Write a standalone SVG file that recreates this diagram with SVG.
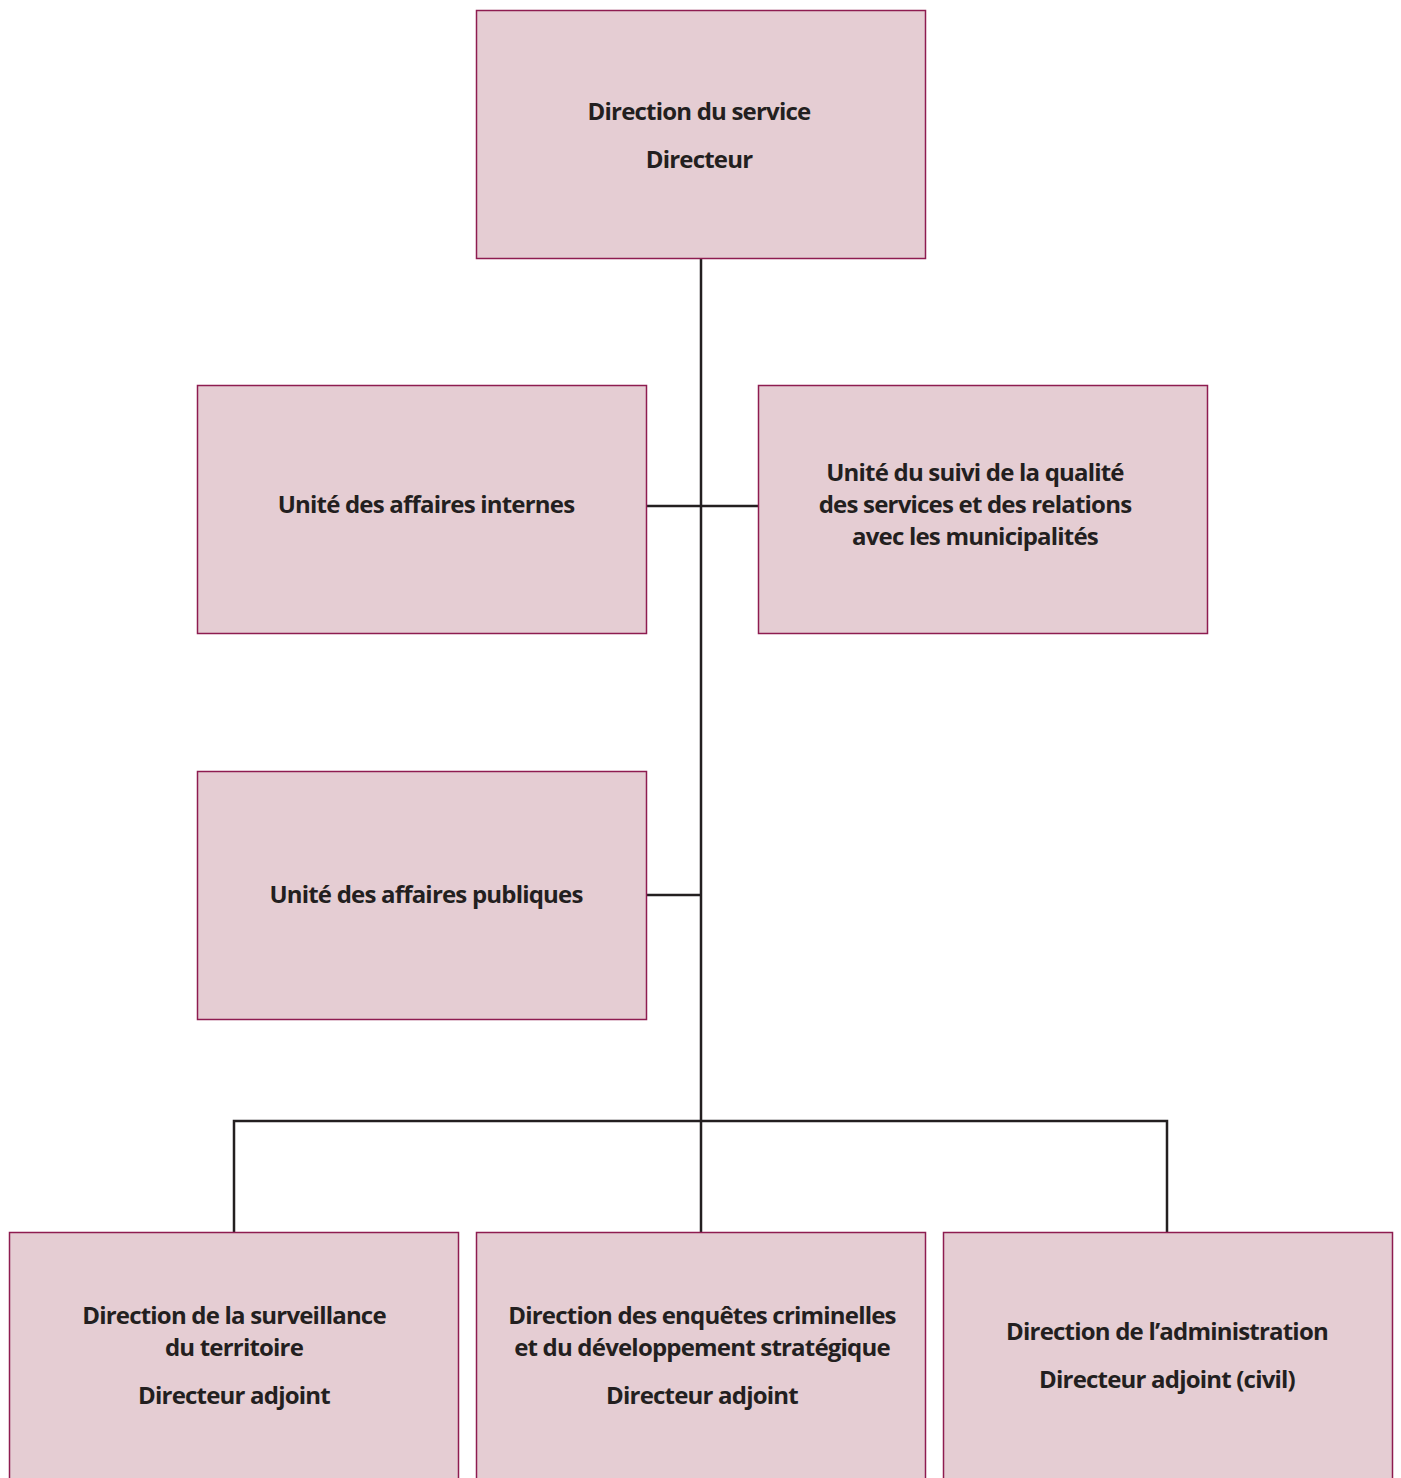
<svg xmlns="http://www.w3.org/2000/svg" width="1401" height="1478" viewBox="0 0 1401 1478">
<style>
.box{fill:#e5cdd3;stroke:#8e1c50;stroke-width:1.5}
.lbl{font-family:"Open Sans","Liberation Sans",sans-serif;font-weight:700;font-size:24px;letter-spacing:-0.8px;fill:#231f20;text-anchor:middle}
.con{fill:none;stroke:#231f20;stroke-width:2.5}
</style>
<rect width="1401" height="1478" fill="#fff"/>
<g id="connectors">
<path class="con" d="M701 259V1232"/>
<path class="con" d="M646 506H758"/>
<path class="con" d="M646 895H701"/>
<path class="con" d="M234 1232V1121H1167V1232"/>
</g>
<g id="n-direction">
<rect class="box" x="476.5" y="10.5" width="449" height="248"/>
<text class="lbl" x="699" y="120">Direction du service</text>
<text class="lbl" x="699" y="168">Directeur</text>
</g>
<g id="n-affaires-internes">
<rect class="box" x="197.5" y="385.5" width="449" height="248"/>
<text class="lbl" x="426" y="513">Unité des affaires internes</text>
</g>
<g id="n-qualite">
<rect class="box" x="758.5" y="385.5" width="449" height="248"/>
<text class="lbl" x="975" y="481">Unité du suivi de la qualité</text>
<text class="lbl" x="975" y="513">des services et des relations</text>
<text class="lbl" x="975" y="545">avec les municipalités</text>
</g>
<g id="n-affaires-publiques">
<rect class="box" x="197.5" y="771.5" width="449" height="248"/>
<text class="lbl" x="426" y="903">Unité des affaires publiques</text>
</g>
<g id="n-surveillance">
<rect class="box" x="9.5" y="1232.5" width="449" height="260"/>
<text class="lbl" x="234" y="1324">Direction de la surveillance</text>
<text class="lbl" x="234" y="1356">du territoire</text>
<text class="lbl" x="234" y="1404">Directeur adjoint</text>
</g>
<g id="n-enquetes">
<rect class="box" x="476.5" y="1232.5" width="449" height="260"/>
<text class="lbl" x="702" y="1324">Direction des enquêtes criminelles</text>
<text class="lbl" x="702" y="1356">et du développement stratégique</text>
<text class="lbl" x="702" y="1404">Directeur adjoint</text>
</g>
<g id="n-administration">
<rect class="box" x="943.5" y="1232.5" width="449" height="260"/>
<text class="lbl" x="1167" y="1340">Direction de l’administration</text>
<text class="lbl" x="1167" y="1388">Directeur adjoint (civil)</text>
</g>
</svg>
